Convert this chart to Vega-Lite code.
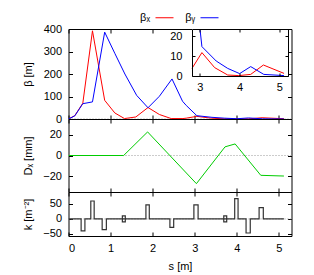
{
  "$schema": "https://vega.github.io/schema/vega-lite/v6.json",
  "padding": {"left": 21.5, "top": 7, "right": 20, "bottom": 4},
  "bounds": "flush",
  "config": {
    "font": "Liberation Sans",
    "view": {"stroke": "black", "strokeWidth": 1},
    "axis": {"domain": false, "grid": false, "tickSize": -4, "tickColor": "black", "labelFontSize": 11, "labelColor": "black", "titleFontSize": 11, "titleColor": "black", "titleFontWeight": "normal", "labelPadding": 11, "minExtent": 0, "offset": 0},
    "line": {"strokeWidth": 1}
  },
  "datasets": {
    "beta": [
      {"series": "βₓ", "s": 0, "b": 0}, {"series": "βₓ", "s": 0.15, "b": 15}, {"series": "βₓ", "s": 0.34, "b": 70}, {"series": "βₓ", "s": 0.57, "b": 392}, {"series": "βₓ", "s": 0.86, "b": 83}, {"series": "βₓ", "s": 1.1, "b": 27}, {"series": "βₓ", "s": 1.33, "b": 2}, {"series": "βₓ", "s": 1.6, "b": 9}, {"series": "βₓ", "s": 1.89, "b": 51}, {"series": "βₓ", "s": 2.16, "b": 20}, {"series": "βₓ", "s": 2.44, "b": 2}, {"series": "βₓ", "s": 2.72, "b": 2}, {"series": "βₓ", "s": 2.8, "b": 3.8}, {"series": "βₓ", "s": 3.05, "b": 11.7}, {"series": "βₓ", "s": 3.37, "b": 4.2}, {"series": "βₓ", "s": 3.7, "b": 0.5}, {"series": "βₓ", "s": 3.98, "b": 0.2}, {"series": "βₓ", "s": 4.28, "b": 0.8}, {"series": "βₓ", "s": 4.6, "b": 5.5}, {"series": "βₓ", "s": 5.12, "b": 1.3},
      {"series": "βᵧ", "s": 0, "b": 0}, {"series": "βᵧ", "s": 0.15, "b": 14}, {"series": "βᵧ", "s": 0.34, "b": 68}, {"series": "βᵧ", "s": 0.57, "b": 76}, {"series": "βᵧ", "s": 0.86, "b": 386}, {"series": "βᵧ", "s": 1.1, "b": 292}, {"series": "βᵧ", "s": 1.34, "b": 200}, {"series": "βᵧ", "s": 1.62, "b": 105}, {"series": "βᵧ", "s": 1.89, "b": 50}, {"series": "βᵧ", "s": 2.16, "b": 101}, {"series": "βᵧ", "s": 2.46, "b": 178}, {"series": "βᵧ", "s": 2.71, "b": 79}, {"series": "βᵧ", "s": 2.8, "b": 60}, {"series": "βᵧ", "s": 3.05, "b": 14.7}, {"series": "βᵧ", "s": 3.41, "b": 7.5}, {"series": "βᵧ", "s": 3.7, "b": 3.8}, {"series": "βᵧ", "s": 4.0, "b": 1.2}, {"series": "βᵧ", "s": 4.28, "b": 4.7}, {"series": "βᵧ", "s": 4.61, "b": 0.8}, {"series": "βᵧ", "s": 5.12, "b": 0.2}
    ],
    "disp": [
      {"s": 0, "d": 0}, {"s": 1.31, "d": 0}, {"s": 1.88, "d": 22.6}, {"s": 3.04, "d": -27}, {"s": 3.72, "d": 8.3}, {"s": 3.96, "d": 11.1}, {"s": 4.57, "d": -19}, {"s": 5.12, "d": -19.7}
    ],
    "quad": [
      {"i": 1, "s": 0, "k": 0}, {"i": 2, "s": 0.30, "k": 0}, {"i": 3, "s": 0.30, "k": -40}, {"i": 4, "s": 0.39, "k": -40}, {"i": 5, "s": 0.39, "k": 0},
      {"i": 6, "s": 0.53, "k": 0}, {"i": 7, "s": 0.53, "k": 60}, {"i": 8, "s": 0.61, "k": 60}, {"i": 9, "s": 0.61, "k": 0},
      {"i": 10, "s": 0.80, "k": 0}, {"i": 11, "s": 0.80, "k": -36}, {"i": 12, "s": 0.90, "k": -36}, {"i": 13, "s": 0.90, "k": 0},
      {"i": 14, "s": 1.28, "k": 0}, {"i": 15, "s": 1.28, "k": 10}, {"i": 16, "s": 1.35, "k": 10}, {"i": 17, "s": 1.35, "k": -10}, {"i": 18, "s": 1.28, "k": -10}, {"i": 19, "s": 1.28, "k": 0},
      {"i": 20, "s": 1.84, "k": 0}, {"i": 21, "s": 1.84, "k": 47}, {"i": 22, "s": 1.92, "k": 47}, {"i": 23, "s": 1.92, "k": 0},
      {"i": 24, "s": 2.41, "k": 0}, {"i": 25, "s": 2.41, "k": -28}, {"i": 26, "s": 2.50, "k": -28}, {"i": 27, "s": 2.50, "k": 0},
      {"i": 28, "s": 2.98, "k": 0}, {"i": 29, "s": 2.98, "k": 47}, {"i": 30, "s": 3.08, "k": 47}, {"i": 31, "s": 3.08, "k": 0},
      {"i": 32, "s": 3.69, "k": 0}, {"i": 33, "s": 3.69, "k": 10}, {"i": 34, "s": 3.76, "k": 10}, {"i": 35, "s": 3.76, "k": -10}, {"i": 36, "s": 3.69, "k": -10}, {"i": 37, "s": 3.69, "k": 0},
      {"i": 38, "s": 3.95, "k": 0}, {"i": 39, "s": 3.95, "k": 68}, {"i": 40, "s": 4.03, "k": 68}, {"i": 41, "s": 4.03, "k": 0},
      {"i": 42, "s": 4.22, "k": 0}, {"i": 43, "s": 4.22, "k": -47}, {"i": 44, "s": 4.32, "k": -47}, {"i": 45, "s": 4.32, "k": 0},
      {"i": 46, "s": 4.53, "k": 0}, {"i": 47, "s": 4.53, "k": 38}, {"i": 48, "s": 4.63, "k": 38}, {"i": 49, "s": 4.63, "k": 0},
      {"i": 50, "s": 5.12, "k": 0}
    ]
  },
  "spacing": 0,
  "resolve": {"scale": {"color": "independent"}, "legend": {"color": "independent"}},
  "vconcat": [
    {
      "width": 223, "height": 90,
      "resolve": {"scale": {"x": "independent", "y": "independent"}},
      "layer": [
        {
          "data": {"values": [{}]},
          "mark": {"type": "rule", "color": "#999999", "strokeDash": [1, 2], "strokeWidth": 1},
          "encoding": {
            "x": {"datum": 0, "type": "quantitative", "scale": {"domain": [0, 5.3], "nice": false, "zero": false}, "axis": {"orient": "top", "labels": false, "title": null, "values": [0, 1, 2, 3, 4, 5]}},
            "x2": {"datum": 5.3},
            "y": {"datum": 0, "type": "quantitative", "scale": {"domain": [0, 400], "nice": false}, "axis": {"orient": "right", "labels": false, "title": null, "values": [0, 100, 200, 300, 400]}}
          }
        },
        {
          "data": {"name": "beta"},
          "mark": {"type": "line", "clip": true},
          "encoding": {
            "x": {"field": "s", "type": "quantitative", "scale": {"domain": [0, 5.3], "nice": false, "zero": false}, "axis": {"orient": "bottom", "labels": false, "title": null, "values": [0, 1, 2, 3, 4, 5]}},
            "y": {"field": "b", "type": "quantitative", "scale": {"domain": [0, 400], "nice": false}, "axis": {"orient": "left", "title": "β [m]", "titleX": -40.5, "titleBaseline": "middle", "values": [0, 100, 200, 300, 400]}},
            "color": {"field": "series", "type": "nominal", "scale": {"domain": ["βₓ", "βᵧ"], "range": ["#ff0000", "#0000ff"]},
              "legend": {"orient": "none", "legendX": 86.5, "legendY": -21, "direction": "horizontal", "title": null, "padding": 0, "symbolType": "stroke", "symbolSize": 324, "symbolStrokeWidth": 1, "labelAlign": "right", "labelOffset": -24, "labelFontSize": 11, "labelColor": "black", "columnPadding": 9}}
          }
        },
        {
          "data": {"values": [{}]},
          "mark": {"type": "rect", "fill": "white"},
          "encoding": {
            "x": {"datum": 2.8, "type": "quantitative", "scale": {"domain": [2.8, 5.22], "range": [123.5, 219.5], "nice": false, "zero": false}, "axis": {"orient": "bottom", "offset": -43, "values": [3, 4, 5], "title": null, "tickSize": -3, "labelPadding": 8, "zindex": 1, "domain": true, "domainColor": "black"}},
            "x2": {"datum": 5.22},
            "y": {"datum": 0, "type": "quantitative", "scale": {"domain": [0, 23.5], "range": [47, 0], "nice": false}, "axis": {"orient": "left", "offset": -123.5, "values": [0, 10, 20], "title": null, "tickSize": -3, "labelPadding": 13, "zindex": 1, "domain": true, "domainColor": "black"}},
            "y2": {"datum": 23.5}
          }
        },
        {
          "data": {"name": "beta"},
          "transform": [{"filter": "datum.s >= 2.8"}],
          "mark": {"type": "line", "clip": true},
          "encoding": {
            "x": {"field": "s", "type": "quantitative", "scale": {"domain": [2.8, 5.22], "range": [123.5, 219.5], "nice": false, "zero": false}, "axis": {"orient": "top", "labels": false, "values": [3, 4, 5], "title": null, "tickSize": -3, "zindex": 1, "domain": true, "domainColor": "black"}},
            "y": {"field": "b", "type": "quantitative", "scale": {"domain": [0, 23.5], "range": [47, 0], "nice": false}, "axis": {"orient": "right", "offset": -3.5, "labels": false, "values": [0, 10, 20], "title": null, "tickSize": -3, "zindex": 1, "domain": true, "domainColor": "black"}},
            "color": {"field": "series", "type": "nominal", "legend": null}
          }
        }
      ]
    },
    {
      "width": 223, "height": 73,
      "resolve": {"scale": {"x": "independent", "y": "independent"}},
      "layer": [
        {
          "data": {"values": [{}]},
          "mark": {"type": "rule", "color": "#999999", "strokeDash": [1, 2], "strokeWidth": 1},
          "encoding": {
            "x": {"datum": 0, "type": "quantitative", "scale": {"domain": [0, 5.3], "nice": false, "zero": false}, "axis": {"orient": "top", "labels": false, "title": null, "values": [0, 1, 2, 3, 4, 5]}},
            "x2": {"datum": 5.3},
            "y": {"datum": 0, "type": "quantitative", "scale": {"domain": [-35, 35], "nice": false}, "axis": {"orient": "right", "labels": false, "title": null, "values": [-20, 0, 20]}}
          }
        },
        {
          "data": {"name": "disp"},
          "mark": {"type": "line", "clip": true, "color": "#00cc00"},
          "encoding": {
            "x": {"field": "s", "type": "quantitative", "scale": {"domain": [0, 5.3], "nice": false, "zero": false}, "axis": {"orient": "bottom", "labels": false, "title": null, "values": [0, 1, 2, 3, 4, 5]}},
            "y": {"field": "d", "type": "quantitative", "scale": {"domain": [-35, 35], "nice": false}, "axis": {"orient": "left", "title": "Dₓ [mm]", "titleX": -40.5, "titleBaseline": "middle", "values": [-20, 0, 20]}}
          }
        }
      ]
    },
    {
      "width": 223, "height": 44,
      "resolve": {"scale": {"x": "independent", "y": "independent"}},
      "layer": [
        {
          "data": {"values": [{}]},
          "mark": {"type": "rule", "color": "#999999", "strokeDash": [1, 2], "strokeWidth": 1},
          "encoding": {
            "x": {"datum": 0, "type": "quantitative", "scale": {"domain": [0, 5.3], "nice": false, "zero": false}, "axis": {"orient": "top", "labels": false, "title": null, "values": [0, 1, 2, 3, 4, 5]}},
            "x2": {"datum": 5.3},
            "y": {"datum": 0, "type": "quantitative", "scale": {"domain": [-57, 90], "nice": false}, "axis": {"orient": "right", "labels": false, "title": null, "values": [-50, 0, 50]}}
          }
        },
        {
          "data": {"name": "quad"},
          "mark": {"type": "line", "clip": true, "color": "#333333", "strokeWidth": 1.2},
          "encoding": {
            "x": {"field": "s", "type": "quantitative", "scale": {"domain": [0, 5.3], "nice": false, "zero": false}, "axis": {"orient": "bottom", "title": "s [m]", "titleY": 30, "titleBaseline": "middle", "labelPadding": 10, "values": [0, 1, 2, 3, 4, 5]}},
            "y": {"field": "k", "type": "quantitative", "scale": {"domain": [-57, 90], "nice": false}, "axis": {"orient": "left", "title": "k [m⁻²]", "titleX": -40.5, "titleBaseline": "middle", "values": [-50, 0, 50]}},
            "order": {"field": "i", "type": "quantitative"}
          }
        }
      ]
    }
  ]
}
